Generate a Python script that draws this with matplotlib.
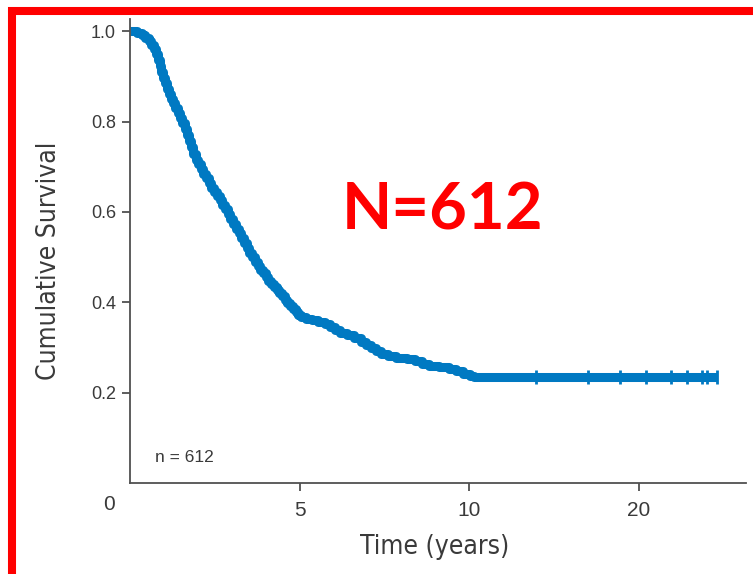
import numpy as np
import matplotlib
matplotlib.use("Agg")
import matplotlib.pyplot as plt
from matplotlib.patches import Rectangle

# Kaplan-Meier estimate: step times (years) and survival after each step
step_times = [0.00, 0.20, 0.35, 0.45, 0.55, 0.63, 0.70, 0.76, 0.82, 0.87,
              0.92, 0.97, 1.02, 1.08, 1.14, 1.20, 1.26, 1.33, 1.40, 1.47,
              1.54, 1.61, 1.68, 1.74, 1.80, 1.86, 1.93, 2.00, 2.08, 2.16,
              2.24, 2.32, 2.40, 2.48, 2.56, 2.64, 2.72, 2.80, 2.88, 2.96,
              3.04, 3.12, 3.20, 3.28, 3.36, 3.44, 3.52, 3.60, 3.68, 3.76,
              3.84, 3.92, 4.00, 4.08, 4.16, 4.24, 4.32, 4.40, 4.48, 4.56,
              4.64, 4.72, 4.80, 4.88, 4.96, 5.05, 5.20, 5.35, 5.55, 5.75,
              5.90, 6.05, 6.20, 6.40, 6.60, 6.80, 6.95, 7.10, 7.25, 7.40,
              7.60, 7.85, 8.15, 8.40, 8.60, 8.80, 9.10, 9.40, 9.60, 9.80,
              10.05, 10.30]
survival = [1.000, 0.997, 0.992, 0.986, 0.978, 0.970, 0.961, 0.950, 0.937, 0.924,
            0.910, 0.897, 0.885, 0.873, 0.862, 0.851, 0.840, 0.829, 0.818, 0.807,
            0.796, 0.784, 0.771, 0.757, 0.743, 0.729, 0.716, 0.705, 0.694, 0.684,
            0.674, 0.664, 0.654, 0.644, 0.635, 0.626, 0.616, 0.606, 0.595, 0.584,
            0.573, 0.563, 0.553, 0.543, 0.532, 0.521, 0.510, 0.500, 0.490, 0.481,
            0.472, 0.464, 0.456, 0.448, 0.441, 0.434, 0.427, 0.420, 0.413, 0.406,
            0.399, 0.392, 0.385, 0.378, 0.372, 0.367, 0.363, 0.360, 0.356, 0.352,
            0.346, 0.339, 0.333, 0.327, 0.320, 0.313, 0.306, 0.299, 0.292, 0.286,
            0.280, 0.277, 0.274, 0.269, 0.263, 0.258, 0.256, 0.253, 0.247, 0.241,
            0.236, 0.235]
last_follow_up = 24.6

# censored observations on the plateau
censor_times = [13.9, 17.0, 18.9, 20.4, 21.9, 22.8, 23.7, 24.0, 24.6]

x_ticks = [5, 10, 20]
y_ticks = [0.2, 0.4, 0.6, 0.8, 1.0]
n_patients = 612

blue = "#0079c2"
grey = "#3a3a3a"
plt.rcParams["font.family"] = ["Liberation Sans", "DejaVu Sans"]
label_font = dict(family=["DejaVu Sans"], fontstretch="condensed",
                  fontsize=19, color=grey)


def fwd(x):
    x = np.asarray(x, dtype=float)
    return np.where(x <= 10, x, 10 + (x - 10) / 2)


def inv(x):
    x = np.asarray(x, dtype=float)
    return np.where(x <= 10, x, 10 + (x - 10) * 2)


fig = plt.figure(figsize=(7.53, 5.74), dpi=100)
ax = fig.add_axes([130 / 753, 91 / 574, 616 / 753, 464 / 574])
ax.set_xscale("function", functions=(fwd, inv))

t = np.append(step_times, last_follow_up)
s = np.append(survival, survival[-1])
ax.plot(t, s, drawstyle="steps-post", color=blue, lw=6.5,
        solid_capstyle="butt", solid_joinstyle="round")

idx = np.searchsorted(step_times, censor_times, side="right") - 1
ax.plot(censor_times, np.array(survival)[idx], ls="none", marker="|",
        ms=9.5, mew=2, color=blue)

ax.set_xlim(0, 26.3)
ax.set_ylim(0, 1.027)
ax.set_xticks(x_ticks)
ax.set_xticklabels([str(v) for v in x_ticks])
ax.set_yticks(y_ticks)
ax.set_yticklabels([f"{v:.1f}" for v in y_ticks])
ax.xaxis.set_minor_locator(plt.NullLocator())

for side in ("top", "right"):
    ax.spines[side].set_visible(False)
for side in ("left", "bottom"):
    ax.spines[side].set_color("#505050")
    ax.spines[side].set_linewidth(1.3)

ax.tick_params(axis="both", direction="out", length=6, width=1.3,
               color="#505050", labelcolor=grey)
ax.tick_params(axis="y", labelsize=13, pad=4)
ax.tick_params(axis="x", labelsize=15, pad=7)

# origin label sits at the corner, left of the spine
ax.text(-0.034, -0.047, "0", transform=ax.transAxes, ha="center", va="center",
        fontsize=15, color=grey)

ax.set_ylabel("Cumulative Survival", **label_font)
ax.yaxis.set_label_coords(-0.11, 0.478)
ax.set_xlabel("Time (years)", **label_font)
ax.xaxis.set_label_coords(0.494, -0.11)

ax.text(0.041, 0.056, f"n = {n_patients}", transform=ax.transAxes,
        ha="left", va="center", fontsize=12.5, color=grey)

fig.text(443 / 753, (574 - 230) / 574, f"N={n_patients}", ha="center",
         va="baseline", fontsize=47, fontweight="bold", color="#ff0000",
         family=["Lato", "DejaVu Sans"])

# red frame around the panel
fig.add_artist(Rectangle((12 / 753, -2 / 574), 760 / 753, (574 - 11 + 2) / 574,
                         transform=fig.transFigure, fill=False,
                         edgecolor="#ff0000", lw=5.8, clip_on=False))

fig.savefig("out.png", dpi=100)
